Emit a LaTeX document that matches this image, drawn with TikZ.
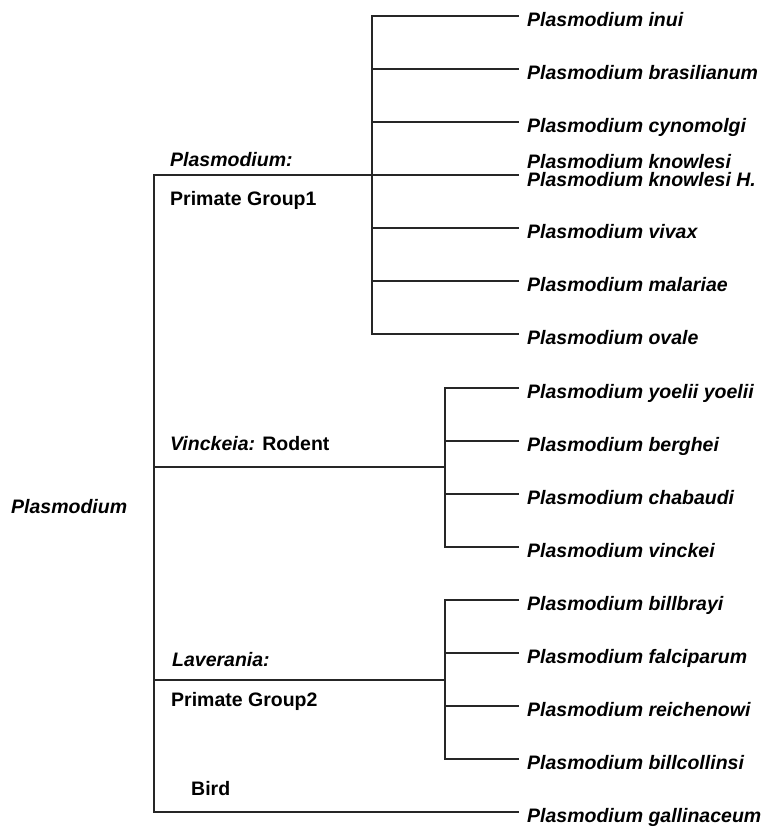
\documentclass[tikz,border=0pt]{standalone}
\usepackage{fontspec}
\setmainfont{Liberation Sans}
\begin{document}
\begin{tikzpicture}[x=1pt,y=-1pt,
  br/.style={line width=2pt,draw=black!85,line cap=rect},
  lab/.style={anchor=base west,inner sep=0pt,font=\fontsize{19.5}{17.5}\selectfont\bfseries},
  sp/.style={lab,font=\fontsize{19.5}{17.5}\selectfont\bfseries\itshape,align=left}]
\useasboundingbox (0,0) rectangle (770,827);
% junction coordinates
\coordinate (r1) at (154,175);
\coordinate (r2) at (154,467);
\coordinate (r3) at (154,680);
\coordinate (r4) at (154,812);
\coordinate (g1) at (372,175);
\coordinate (g2) at (445,467);
\coordinate (g3) at (445,680);
% Primate group 1
\foreach \n/\yy in {a/16,b/69,c/122,d/175,e/228,f/281,g/334}{
  \coordinate (p\n) at (372,\yy);
  \coordinate (q\n) at (518,\yy);
}
\foreach \n/\yy in {a/388,b/441,c/494,d/547}{
  \coordinate (v\n) at (445,\yy);
  \coordinate (w\n) at (518,\yy);
}
\foreach \n/\yy in {a/600,b/653,c/706,d/759}{
  \coordinate (l\n) at (445,\yy);
  \coordinate (m\n) at (518,\yy);
}
\coordinate (bq) at (518,812);
% lines
\draw[br] (r1) -- (r4);
\draw[br] (r1) -- (g1);
\draw[br] (r2) -- (g2);
\draw[br] (r3) -- (g3);
\draw[br] (r4) -- (bq);
\draw[br] (pa) -- (pg);
\draw[br] (va) -- (vd);
\draw[br] (la) -- (ld);
\foreach \n in {a,b,c,d,e,f,g}{\draw[br] (p\n) -- (q\n);}
\foreach \n in {a,b,c,d}{\draw[br] (v\n) -- (w\n); \draw[br] (l\n) -- (m\n);}
% group labels
\node[sp] (root) at (11,513) {Plasmodium};
\node[sp] (gp1a) at (170,166) {Plasmodium:};
\node[lab] (gp1b) at (170,205) {Primate Group1};
\node[lab] (gv) at (170,450) {\itshape Vinckeia:\upshape{} Rodent};
\node[sp] (gl1) at (172,666) {Laverania:};
\node[lab] (gl2) at (171,706) {Primate Group2};
\node[lab] (gb) at (191,795) {Bird};
% leaf labels
\node[sp] (s1) at (527,26) {Plasmodium inui};
\node[sp] (s2) at (527,79) {Plasmodium brasilianum};
\node[sp] (s3) at (527,132) {Plasmodium cynomolgi};
\node[sp] (s4) at (527,186) {Plasmodium knowlesi\\Plasmodium knowlesi H.};
\node[sp] (s5) at (527,238) {Plasmodium vivax};
\node[sp] (s6) at (527,291) {Plasmodium malariae};
\node[sp] (s7) at (527,344) {Plasmodium ovale};
\node[sp] (s8) at (527,398) {Plasmodium yoelii yoelii};
\node[sp] (s9) at (527,451) {Plasmodium berghei};
\node[sp] (s10) at (527,504) {Plasmodium chabaudi};
\node[sp] (s11) at (527,557) {Plasmodium vinckei};
\node[sp] (s12) at (527,610) {Plasmodium billbrayi};
\node[sp] (s13) at (527,663) {Plasmodium falciparum};
\node[sp] (s14) at (527,716) {Plasmodium reichenowi};
\node[sp] (s15) at (527,769) {Plasmodium billcollinsi};
\node[sp] (s16) at (527,822) {Plasmodium gallinaceum};
\end{tikzpicture}
\end{document}
